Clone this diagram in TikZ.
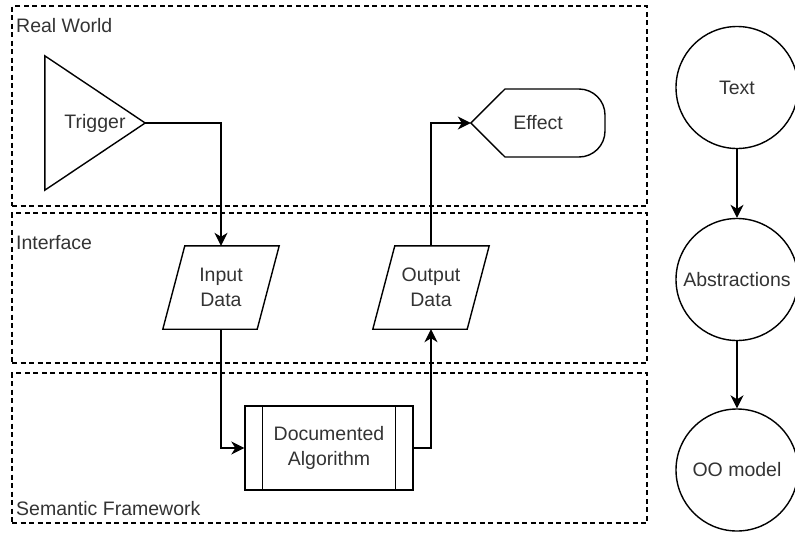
\documentclass[tikz,border=0pt]{standalone}
\usepackage{fontspec}
\setmainfont{Liberation Sans}
\usetikzlibrary{arrows.meta,shapes.geometric}
\tikzset{
  lw/.style={line width=1.4pt},
  lane/.style={draw, line width=1.4pt, dash pattern=on 5pt off 3.5pt, rectangle, inner sep=0pt},
  lanelabel/.style={anchor=base west, inner sep=0pt, text=black!80},
  box/.style={rectangle, inner sep=0pt, align=center, text=black!80},
  arr/.style={line width=1.4pt, -{Stealth[length=13pt,width=13pt,inset=4pt]}},
  circ/.style={circle, draw, line width=1.4pt, minimum size=122pt, inner sep=0pt, text=black!80}
}
\begin{document}
\begin{tikzpicture}[x=1pt,y=-1pt,font=\fontsize{19.5}{25.3}\selectfont]
\useasboundingbox (0,0) rectangle (795,533);
% lanes
\node[lane, minimum width=635pt, minimum height=200pt] (rw) at (329.5,106) {};
\node[lane, minimum width=635pt, minimum height=150pt] (if) at (329.5,288) {};
\node[lane, minimum width=635pt, minimum height=150pt] (sf) at (329.5,448) {};
\node[lanelabel] (rwl) at (16,32) {Real World};
\node[lanelabel] (ifl) at (16,249) {Interface};
\node[lanelabel] (sfl) at (16,515.7) {Semantic Framework};
% trigger
\node[box, minimum width=100pt, minimum height=134pt] (trig) at (95,123) {Trigger};
\draw[lw, line join=miter] (trig.north west) -- (trig.east) -- (trig.south west) -- cycle;
% input data
\node[box, minimum width=116pt, minimum height=83pt] (in) at (221,287.5) {Input\\Data};
\draw[lw] ([xshift=22pt]in.north west) -- (in.north east) -- ([xshift=-22pt]in.south east) -- (in.south west) -- cycle;
% output data
\node[box, minimum width=116pt, minimum height=83pt] (out) at (431,287.5) {Output\\Data};
\draw[lw] ([xshift=22pt]out.north west) -- (out.north east) -- ([xshift=-22pt]out.south east) -- (out.south west) -- cycle;
% effect
\node[box, minimum width=134pt, minimum height=68pt] (eff) at (538,123) {Effect};
\draw[lw] (eff.west) -- (505,89) -- (579,89) arc[start angle=-90, end angle=0, radius=26]
  -- (605,131) arc[start angle=0, end angle=90, radius=26] -- (505,157) -- cycle;
% documented algorithm
\node[box, draw, line width=1.4pt, minimum width=168pt, minimum height=84pt] (algo) at (329,448) {Documented\\Algorithm};
\draw[lw] ([xshift=18pt]algo.north west) -- ([xshift=18pt]algo.south west);
\draw[lw] ([xshift=-18pt]algo.north east) -- ([xshift=-18pt]algo.south east);
% connectors
\draw[arr] (trig.east) -| (in.north);
\draw[arr] (in.south) |- (algo.west);
\draw[arr] (algo.east) -| (out.south);
\draw[arr] (out.north) |- (eff.west);
% right chain
\node[circ] (txt) at (737,87.5) {Text};
\node[circ] (abs) at (737,279.5) {Abstractions};
\node[circ] (oo) at (737,470) {OO model};
\draw[arr] (txt) -- (abs);
\draw[arr] (abs) -- (oo);
\end{tikzpicture}
\end{document}
